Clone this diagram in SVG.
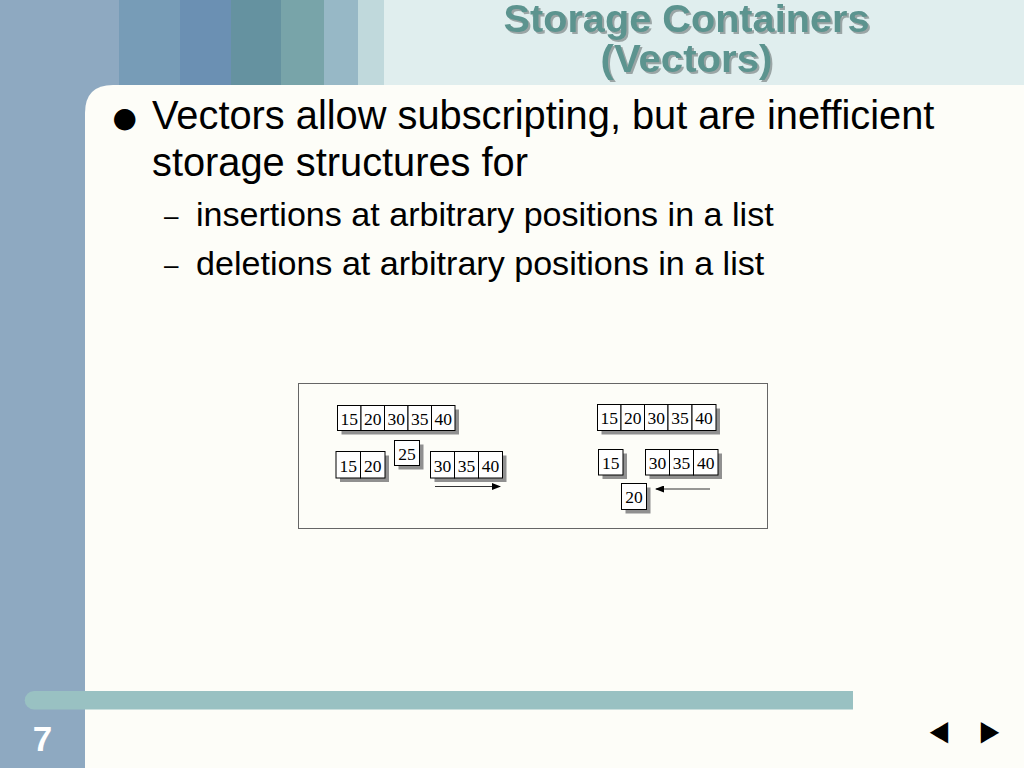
<svg xmlns="http://www.w3.org/2000/svg" width="1024" height="768" viewBox="0 0 1024 768">
<style>
.title{font-family:"Liberation Sans",Arial,sans-serif;font-weight:bold;font-size:38.5px;fill:#5b948f;filter:url(#sh)}
.body{font-family:"Liberation Sans",Arial,sans-serif;fill:#000}
.cell{fill:#fff;stroke:#000;stroke-width:1}
.shadow{fill:#909090}
.num{font-family:"Liberation Serif","Times New Roman",serif;font-size:17.5px;fill:#000;text-anchor:middle}
.conn{stroke:#333;stroke-width:1.2;fill:none}
.nav{font-family:"DejaVu Sans",sans-serif;font-size:24px;fill:#000}
</style>
<defs>
<filter id="sh" x="-5%" y="-20%" width="110%" height="140%">
<feDropShadow dx="2" dy="2" stdDeviation="0.4" flood-color="#9aa5a5" flood-opacity="1"/>
</filter>
<marker id="ah" markerWidth="9" markerHeight="7" refX="8" refY="3.5" orient="auto" markerUnits="userSpaceOnUse">
<path d="M0,0 L9,3.5 L0,7 Z" fill="#000"/>
</marker>
</defs>
<!-- background -->
<rect x="0" y="0" width="1024" height="768" fill="#8ea9c1"/>
<rect x="119" y="0" width="61" height="85" fill="#779cb7"/>
<rect x="180" y="0" width="51" height="85" fill="#6b90b3"/>
<rect x="231" y="0" width="50" height="85" fill="#6592a0"/>
<rect x="281" y="0" width="43" height="85" fill="#78a4a9"/>
<rect x="324" y="0" width="34" height="85" fill="#97b8c6"/>
<rect x="358" y="0" width="26" height="85" fill="#c0d9dc"/>
<rect x="384" y="0" width="640" height="85" fill="#e0eeee"/>
<path d="M85,768 L85,113 Q85,85 113,85 L1024,85 L1024,768 Z" fill="#fdfdf8"/>
<path d="M34,691 L853,691 L853,709.5 L34,709.5 A9.25,9.25 0 0 1 34,691 Z" fill="#99c1c2"/>
<!-- title -->
<text class="title" x="686.5" y="31.5" text-anchor="middle" textLength="366" lengthAdjust="spacingAndGlyphs">Storage Containers</text>
<text class="title" x="686.5" y="72" text-anchor="middle" textLength="172" lengthAdjust="spacingAndGlyphs">(Vectors)</text>
<!-- bullets -->
<g id="bullets">
<text class="body" x="112.5" y="127" style="font-family:'DejaVu Sans',sans-serif;font-size:28px">●</text>
<text class="body" x="152" y="128.5" font-size="39.8">Vectors allow subscripting, but are inefficient</text>
<text class="body" x="152" y="176" font-size="39.8">storage structures for</text>
<text class="body" x="164" y="225" font-size="26">–</text>
<text class="body" x="196" y="226" font-size="34.1">insertions at arbitrary positions in a list</text>
<text class="body" x="164" y="274" font-size="26">–</text>
<text class="body" x="196" y="275" font-size="34.1">deletions at arbitrary positions in a list</text>
</g>
<!-- figure frame -->
<rect x="298.5" y="383.5" width="469" height="145" fill="#fdfdf8" stroke="#666" stroke-width="1"/>
<!-- left: insertion -->
<g id="ins-top">
<rect class="shadow" x="341.5" y="409.5" width="117.5" height="25"/>
<rect class="cell" x="337.5" y="405.5" width="23.5" height="25"/>
<rect class="cell" x="361" y="405.5" width="23.5" height="25"/>
<rect class="cell" x="384.5" y="405.5" width="23.5" height="25"/>
<rect class="cell" x="408" y="405.5" width="23.5" height="25"/>
<rect class="cell" x="431.5" y="405.5" width="23.5" height="25"/>
<text class="num" x="349.25" y="424.5">15</text>
<text class="num" x="372.75" y="424.5">20</text>
<text class="num" x="396.25" y="424.5">30</text>
<text class="num" x="419.75" y="424.5">35</text>
<text class="num" x="443.25" y="424.5">40</text>
</g>
<g id="ins-left">
<rect class="shadow" x="340" y="455.5" width="49" height="26.5"/>
<rect class="cell" x="336" y="451.5" width="24.5" height="26.5"/>
<rect class="cell" x="360.5" y="451.5" width="24.5" height="26.5"/>
<text class="num" x="348.25" y="471.5">15</text>
<text class="num" x="372.75" y="471.5">20</text>
</g>
<g id="ins-new">
<rect class="shadow" x="398.5" y="444.5" width="25" height="25"/>
<rect class="cell" x="394.5" y="440.5" width="25" height="25"/>
<text class="num" x="407" y="459.5">25</text>
</g>
<g id="ins-right">
<rect class="shadow" x="434.5" y="455.5" width="72" height="26.5"/>
<rect class="cell" x="430.5" y="451.5" width="24" height="26.5"/>
<rect class="cell" x="454.5" y="451.5" width="24" height="26.5"/>
<rect class="cell" x="478.5" y="451.5" width="24" height="26.5"/>
<text class="num" x="442.5" y="471.5">30</text>
<text class="num" x="466.5" y="471.5">35</text>
<text class="num" x="490.5" y="471.5">40</text>
</g>
<!-- right: deletion -->
<g id="del-top">
<rect class="shadow" x="601.5" y="408.5" width="118.5" height="26"/>
<rect class="cell" x="597.5" y="404.5" width="23.5" height="26"/>
<rect class="cell" x="621" y="404.5" width="23.5" height="26"/>
<rect class="cell" x="644.5" y="404.5" width="23.5" height="26"/>
<rect class="cell" x="668" y="404.5" width="24" height="26"/>
<rect class="cell" x="692" y="404.5" width="24" height="26"/>
<text class="num" x="609.25" y="424">15</text>
<text class="num" x="632.75" y="424">20</text>
<text class="num" x="656.25" y="424">30</text>
<text class="num" x="680" y="424">35</text>
<text class="num" x="704" y="424">40</text>
</g>
<g id="del-left">
<rect class="shadow" x="602.5" y="453.5" width="24.5" height="25.5"/>
<rect class="cell" x="598.5" y="449.5" width="24.5" height="25.5"/>
<text class="num" x="610.75" y="468.5">15</text>
</g>
<g id="del-right">
<rect class="shadow" x="649.5" y="453.5" width="72.5" height="25.5"/>
<rect class="cell" x="645.5" y="449.5" width="24" height="25.5"/>
<rect class="cell" x="669.5" y="449.5" width="24" height="25.5"/>
<rect class="cell" x="693.5" y="449.5" width="24.5" height="25.5"/>
<text class="num" x="657.5" y="468.5">30</text>
<text class="num" x="681.5" y="468.5">35</text>
<text class="num" x="705.75" y="468.5">40</text>
</g>
<g id="del-removed">
<rect class="shadow" x="625.5" y="487.5" width="25" height="26"/>
<rect class="cell" x="621.5" y="483.5" width="25" height="26"/>
<text class="num" x="634" y="503">20</text>
</g>
<!-- connectors -->
<g id="connectors">
<line class="conn" x1="435" y1="486.5" x2="500" y2="486.5" marker-end="url(#ah)"/>
<line class="conn" x1="710" y1="489" x2="656" y2="489" marker-end="url(#ah)"/>
</g>
<!-- footer -->
<text x="42.5" y="751" text-anchor="middle" style="font-family:'Liberation Sans',Arial,sans-serif;font-weight:bold;font-size:35px;fill:#fff">7</text>
<text class="nav" text-anchor="middle" transform="translate(939,743.5) scale(1,1.8)">◄</text>
<text class="nav" text-anchor="middle" transform="translate(990,743.5) scale(1,1.8)">►</text>
</svg>
